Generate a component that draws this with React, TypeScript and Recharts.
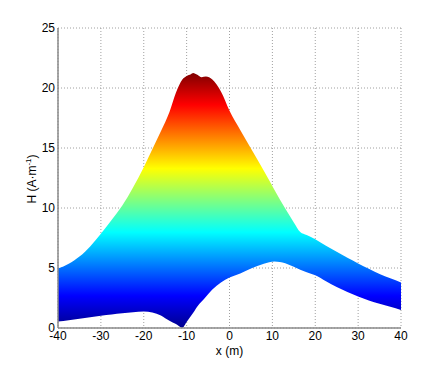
import { ComposedChart, Area, XAxis, YAxis, CartesianGrid, Label } from 'recharts'

const xs = [
  -40, -37.5, -35, -32.5, -30, -27.5, -25, -22.5, -20, -18, -16, -14, -12.5, -11, -10, -9, -8.5,
  -7.5, -6.5, -5.5, -4, -2, 0, 2.5, 5, 8, 10.5, 13, 15, 16.5, 18, 20, 22.5, 25, 27.5, 30, 32.5, 35,
  37.5, 40,
]
// lower edge of H (A/m)
const lower = [
  0.55, 0.65, 0.78, 0.9, 1.02, 1.12, 1.22, 1.32, 1.38, 1.3, 1.05, 0.6, 0.33, 0.02, 0.5, 1.0, 1.25,
  1.8, 2.2, 2.6, 3.2, 3.8, 4.2, 4.55, 4.95, 5.35, 5.55, 5.4, 5.1, 4.85, 4.65, 4.4, 3.9, 3.42, 3.0,
  2.62, 2.3, 2.03, 1.77, 1.5,
]
// upper edge of H (A/m)
const upper = [
  4.95, 5.35, 5.95, 6.8, 7.85, 9.0, 10.2, 11.7, 13.4, 14.9, 16.4, 18.0, 19.6, 20.7, 21.0, 21.15,
  21.25, 21.1, 20.9, 20.95, 20.7, 19.7, 18.1, 16.5, 14.95, 13.1, 11.5, 9.95, 8.8, 8.0, 7.75, 7.4,
  6.85, 6.35, 5.85, 5.38, 4.93, 4.5, 4.15, 3.8,
]

const xTicks = [-40, -30, -20, -10, 0, 10, 20, 30, 40]
const yTicks = [0, 5, 10, 15, 20, 25]

// jet colormap, bottom (low H) to top (high H)
const JET: [number, string][] = [
  [0, '#00008f'],
  [0.125, '#0000ff'],
  [0.375, '#00ffff'],
  [0.625, '#ffff00'],
  [0.875, '#ff0000'],
  [1, '#800000'],
]

const FONT = '"Liberation Sans", Arial, sans-serif'

const YLabel = (props: any) => {
  const vb = props.viewBox || { x: 0, y: 0, width: 58, height: 300 }
  const cx = 36
  const cy = vb.y + vb.height / 2 + 1
  return (
    <text
      x={cx}
      y={cy}
      transform={`rotate(-90, ${cx}, ${cy})`}
      textAnchor="middle"
      fontSize={12}
      fontFamily={FONT}
      fill="#000"
    >
      H (A·m
      <tspan fontSize={8} dy={-5}>-1</tspan>
      <tspan dy={5}>)</tspan>
    </text>
  )
}

export default function App() {
  const data = xs.map((x, i) => ({ x, band: [lower[i], upper[i]] }))

  return (
    <div style={{ position: 'absolute', left: 0, top: 0, width: 443, height: 368, background: '#fff', fontFamily: FONT }}>
      <ComposedChart width={443} height={368} data={data} margin={{ top: 28, right: 42, bottom: 0, left: 0 }}>
        <defs>
          <linearGradient id="jet" x1="0" y1="1" x2="0" y2="0">
            {JET.map(([o, c]) => (
              <stop key={o} offset={o} stopColor={c} />
            ))}
          </linearGradient>
        </defs>
        <CartesianGrid stroke="#a0a0a0" strokeDasharray="1 2" />
        <XAxis
          dataKey="x"
          type="number"
          domain={[-40, 40]}
          ticks={xTicks}
          height={40}
          tickLine={false}
          tickSize={0}
          tickMargin={3}
          axisLine={{ stroke: '#8a8a8a', strokeWidth: 1.5 }}
          tick={{ fontSize: 12, fill: '#000', fontFamily: FONT }}
        >
          <Label value="x (m)" position="insideBottom" offset={13} fontSize={12} fill="#000" fontFamily={FONT} />
        </XAxis>
        <YAxis
          type="number"
          domain={[0, 25]}
          ticks={yTicks}
          width={58}
          tickLine={false}
          tickSize={0}
          tickMargin={3}
          axisLine={{ stroke: '#8a8a8a', strokeWidth: 1.5 }}
          tick={{ fontSize: 12, fill: '#000', fontFamily: FONT }}
        >
          <Label content={<YLabel />} />
        </YAxis>
        <Area
          type="monotone"
          dataKey="band"
          stroke="none"
          fill="url(#jet)"
          fillOpacity={1}
          isAnimationActive={false}
        />
      </ComposedChart>
    </div>
  )
}
